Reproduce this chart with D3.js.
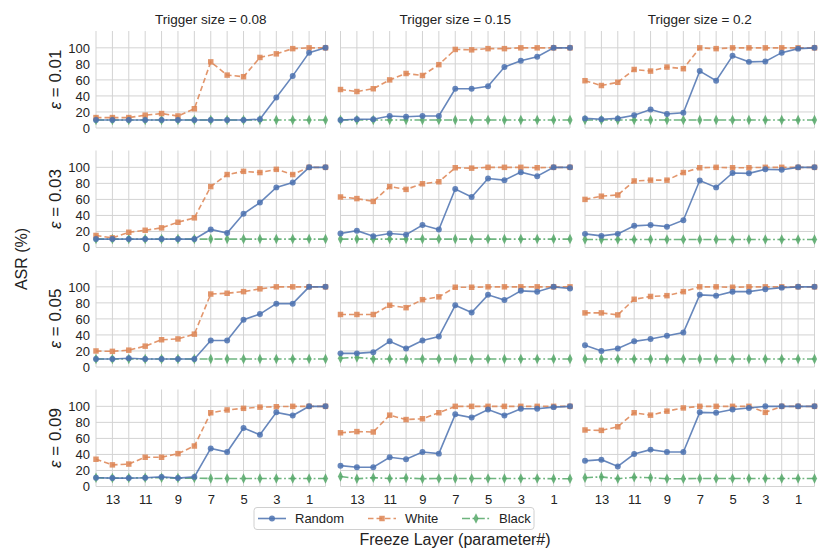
<!DOCTYPE html>
<html><head><meta charset="utf-8">
<script src="https://cdn.jsdelivr.net/npm/d3@7"></script>
<style>body{margin:0;background:#fff;} text{font-family:"Liberation Sans",Arial,sans-serif;fill:#222;}</style>
</head><body><svg id="c" width="830" height="554"></svg>
<script>
const layers = [14,13,12,11,10,9,8,7,6,5,4,3,2,1,0];
const xTicks = [13,11,9,7,5,3,1];
const yTicks = [0,20,40,60,80,100];
const triggerSizes = ["0.08","0.15","0.2"];
const epsilons = ["0.01","0.03","0.05","0.09"];
const seriesNames = ["Random","White","Black"];

// values indexed [row eps][col trigger], ordered by layers 14 -> 0
const randomVals = [
  [[10,10,10,10,10,10,10,10,10,10,11,38,65,94,100],
   [10,11,11,15,14,15,15,49,49,52,76,84,89,100,100],
   [12,11,12,16,23,17.5,19,71,59,90,82.5,83,94,99,100]],
  [[10.5,10.5,10.5,10.5,10.5,10.5,10.5,22.5,18,42,56,75,81,100,100],
   [17.5,21,14,17.5,16,28,22.5,73,63,86,84,94,89,100,100],
   [17,14.5,17,27,28,26,34,83.5,75,93,92.5,97.5,97,100,100]],
  [[10,10,11,10,10,10,10,33,33,59,66,79,79,100,100],
   [17,17,18.5,32,23,33,38,77,68,90,83.5,95,94,100,98],
   [27,20,23,32,35,39,43,90,89,94,94,97,99,100,100]],
  [[11,10.5,10.5,11,12,10.5,12,47.5,43,73,64.5,92.5,88.5,100,100],
   [26,24,24,36.5,34,43,41,90,86,96,88.5,97,97,99,100],
   [32,33.5,25,40.5,46,43,43,92.5,92,96,98,100,100,100,100]]
];
const whiteVals = [
  [[13,13,13,16,18,15,24,82.5,66,64,88,92.5,99,100,100],
   [48,45.5,49,60,68,65.5,79,98,97.5,99,99,100,100,100,100],
   [59,53,57,73,71,76,74,100,99,100,100,100,100,100,100]],
  [[15,12,19,21.5,24.5,31.5,37,76,91,95,93.5,97.5,91,100,100],
   [63,61,57.5,76,72.5,79.5,82,99.5,99,100,100,100,99.5,100,100],
   [60,64,65.5,83,84,84,93.5,99.5,100,99.5,99.5,100,100,100,100]],
  [[20,19.5,21,26,34,35,41,91,92,94,97.5,100,100,100,100],
   [65.5,65.5,65.5,77,74,84,87.5,99.5,99.5,100,100,100,100,100,100],
   [67.5,67.5,65,84.5,88,89,94,100,100,99.5,100,100,100,100,100]],
  [[34,27,28,36.5,36.5,41,50.5,92,95.5,97.5,99,99.5,100,100,100],
   [67,68.5,68,89,83.5,84.5,92,100,100,100,100,100,100,100,100],
   [70.5,70,74.5,92,89,94,98,100,100,100,100,92.5,100,100,100]]
];
const blackVals = [
  [[10,10,10,10,10,10,10,10,10,10,10,10,10,10,10],
   [10,10,10,10,10,10,10,10,10,10,10,10,10,10,10],
   [10,10,10,10,10,10,10,10,10,10,10,10,10,10,10]],
  [[10.5,10.5,10.5,10.5,10.5,10.5,10.5,10.5,10.5,10.5,10.5,10.5,10.5,10.5,10.5],
   [10.5,10.5,10.5,10.5,10.5,10.5,10.5,10.5,10.5,10.5,10.5,10.5,10.5,10.5,10.5],
   [10,10,10,10,10,10,10,10,10,10,10,10,10,10,10]],
  [[10,10,10,10,10,10,10,10,10,10,10,10,10,10,10],
   [11,12,10,10,10,10,10,10,10,10,10,10,10,10,10],
   [10,10,10,10,10,10,10,10,10,10,10,10,10,10,10]],
  [[11,10.5,10.5,11,11,10.5,10.5,10,10,10,10,10,10,10,10],
   [12.5,9.7,11,10,10.5,9.7,10,10,10,10,10,10,10,9.7,9.7],
   [11,12,9.7,11.5,11,9.7,9.7,10,10,10,10,10,10,10,10]]
];

const colors = {Random:"#4C72B0", White:"#DD8452", Black:"#55A868"};
const dashes = {Random:null, White:"5.5,3", Black:"8,2.5,1.8,2.5"};
const symbols = {Random:d3.symbolCircle, White:d3.symbolSquare, Black:d3.symbolDiamond};
const symSize = {Random:28, White:30, Black:32};
const allVals = {Random:randomVals, White:whiteVals, Black:blackVals};

const svg = d3.select("#c");
const panelW = 229.5, panelH = 97, colX = [96,340.5,585], rowY = [31,150.5,270,389.5];
const grid = "#d3d3d3";

rowY.forEach((py, r) => {
  colX.forEach((px, c) => {
    const x = d3.scaleLinear().domain([14,0]).range([px, px+panelW]);
    const y = d3.scaleLinear().domain([0,121]).range([py+panelH, py]);
    const g = svg.append("g");
    g.selectAll(".vg").data(layers).enter().append("line")
      .attr("x1", d=>x(d)).attr("x2", d=>x(d)).attr("y1", py).attr("y2", py+panelH)
      .attr("stroke", grid).attr("stroke-width", 1);
    g.selectAll(".hg").data(yTicks).enter().append("line")
      .attr("x1", px).attr("x2", px+panelW).attr("y1", d=>y(d)).attr("y2", d=>y(d))
      .attr("stroke", grid).attr("stroke-width", 1);
    if (c === 0) {
      const ya = d3.axisLeft(y).tickValues(yTicks).tickSize(0).tickPadding(6);
      const ag = g.append("g").attr("transform", `translate(${px},0)`).call(ya);
      ag.select(".domain").remove();
      ag.selectAll("text").attr("font-size", 13).attr("fill", "#222")
        .style("font-family", '"Liberation Sans",Arial,sans-serif');
      svg.append("text").attr("transform", `translate(${px-35},${py+panelH/2}) rotate(-90)`)
        .attr("text-anchor","middle").attr("font-size", 17)
        .html(`<tspan font-style="italic">ε</tspan> = ${epsilons[r]}`);
    }
    if (r === 3) {
      const xa = d3.axisBottom(x).tickValues(xTicks).tickSize(0).tickPadding(8).tickFormat(d3.format("d"));
      const ag = g.append("g").attr("transform", `translate(0,${py+panelH})`).call(xa);
      ag.select(".domain").remove();
      ag.selectAll("text").attr("font-size", 13).attr("fill", "#222")
        .style("font-family", '"Liberation Sans",Arial,sans-serif');
    }
    if (r === 0) {
      svg.append("text").attr("x", px+panelW/2).attr("y", 24).attr("text-anchor","middle")
        .attr("font-size", 13.5).text(`Trigger size = ${triggerSizes[c]}`);
    }
    seriesNames.slice().reverse().forEach(s => {
      const vals = allVals[s][r][c];
      const data = layers.map((l,i)=>({l, v:vals[i]}));
      const line = d3.line().x(d=>x(d.l)).y(d=>y(d.v));
      g.append("path").datum(data).attr("d", line).attr("fill","none")
        .attr("stroke", colors[s]).attr("stroke-width", 1.6).attr("opacity", 0.85)
        .attr("stroke-dasharray", dashes[s]);
      g.selectAll(".m"+s).data(data).enter().append("path")
        .attr("d", d3.symbol().type(symbols[s]).size(symSize[s]))
        .attr("transform", d=>`translate(${x(d.l)},${y(d.v)})`+(s==="Black"?" scale(0.85,1)":""))
        .attr("fill", colors[s]).attr("opacity", 0.85);
    });
  });
});

svg.append("text").attr("transform","translate(27,259) rotate(-90)").attr("text-anchor","middle")
  .attr("font-size", 16).text("ASR (%)");
svg.append("text").attr("x", 455).attr("y", 545).attr("text-anchor","middle")
  .attr("font-size", 16).text("Freeze Layer (parameter#)");

const lg = svg.append("g");
lg.append("rect").attr("x",254).attr("y",507.5).attr("width",280).attr("height",22).attr("rx",3)
  .attr("fill","#fff").attr("stroke","#d0d0d0").attr("stroke-width",1);
const legX = [258, 368, 462];
seriesNames.forEach((s,i)=>{
  const lx = legX[i], ly = 518.5;
  lg.append("line").attr("x1",lx).attr("x2",lx+28).attr("y1",ly).attr("y2",ly)
    .attr("stroke",colors[s]).attr("stroke-width",1.6).attr("opacity",0.85).attr("stroke-dasharray",dashes[s]);
  lg.append("path").attr("d", d3.symbol().type(symbols[s]).size(symSize[s]))
    .attr("transform",`translate(${lx+14},${ly})`+(s==="Black"?" scale(0.85,1)":"")).attr("fill",colors[s]).attr("opacity",0.85);
  lg.append("text").attr("x", lx+37).attr("y", ly+4.5).attr("font-size",13).text(s);
});
</script></body></html>
